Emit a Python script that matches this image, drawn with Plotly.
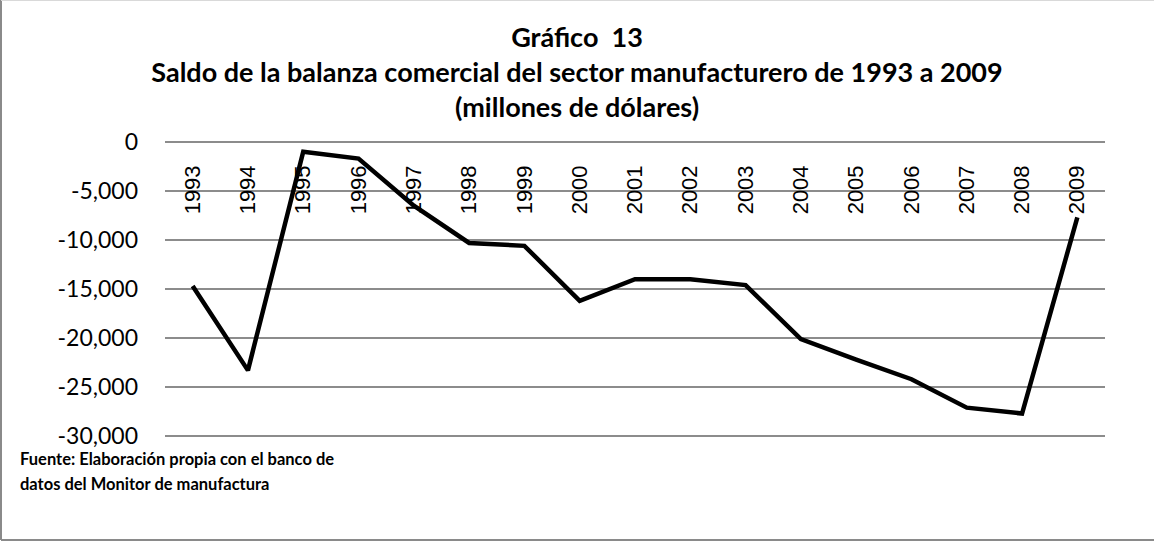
import plotly.graph_objects as go

years = [str(y) for y in range(1993, 2010)]
saldo = [-14700, -23300, -1000, -1700, -6500, -10300, -10600, -16200, -14000,
         -14000, -14600, -20100, -22200, -24200, -27100, -27700, -7700]
y_ticks = [0, -5000, -10000, -15000, -20000, -25000, -30000]
y_labels = ["0", "-5,000", "-10,000", "-15,000", "-20,000", "-25,000", "-30,000"]

title_text = ("<b>Gráfico  13</b><br><b>Saldo de la balanza comercial del sector "
              "manufacturero de 1993 a 2009</b><br><b>(millones de dólares)</b>")
fuente_lines = ["<b>Fuente: Elaboración propia con el banco de</b>",
                "<b>datos del Monitor de manufactura</b>"]

W, H = 1154, 541
L, R, T, B = 165, 49, 139, 102
pw, ph = W - L - R, H - T - B


def px_x(p):
    return (p - L) / pw


def px_y(p):
    return (H - B - p) / ph


fig = go.Figure()
fig.add_trace(go.Scatter(x=years, y=saldo, mode="lines",
                         line=dict(color="black", width=4.5), showlegend=False))

# footnote, one annotation per line to get the wider line spacing
notes = []
for i, txt in enumerate(fuente_lines):
    notes.append(dict(text=txt, xref="paper", yref="paper", x=px_x(18),
                      y=px_y(459 + 25 * i), xanchor="left", yanchor="middle",
                      align="left", showarrow=False,
                      font=dict(family="Lato, sans-serif", size=16.5, color="black")))

fig.update_layout(
    width=W, height=H,
    margin=dict(l=L, r=R, t=T, b=B, autoexpand=False),
    paper_bgcolor="white", plot_bgcolor="white",
    font=dict(family="Lato, sans-serif", color="black"),
    title=dict(text=title_text, x=0.5, xref="container", xanchor="center",
               y=1 - 47 / H, yanchor="top", automargin=False,
               font=dict(family="Lato, sans-serif", size=27, color="black")),
    xaxis=dict(type="category", range=[-0.5, 16.5], showgrid=False, zeroline=False,
               showline=False, ticks="", tickangle=-90, anchor="free",
               position=px_y(160), automargin=False,
               tickfont=dict(family="Liberation Sans, Arial, sans-serif", size=22,
                             color="black")),
    yaxis=dict(range=[-30300, 300], tickvals=y_ticks, ticktext=y_labels,
               showgrid=True, gridcolor="#8c8c8c", gridwidth=2, zeroline=False,
               showline=False, ticks="", ticklabelstandoff=26, automargin=False,
               tickfont=dict(family="Lato, sans-serif", size=23, color="black")),
    annotations=notes,
    shapes=[
        dict(type="line", xref="paper", yref="paper", x0=px_x(1), x1=px_x(1),
             y0=px_y(0), y1=px_y(540), line=dict(color="#8a8a8a", width=2)),
        dict(type="line", xref="paper", yref="paper", x0=px_x(1), x1=px_x(W),
             y0=px_y(540), y1=px_y(540), line=dict(color="#8a8a8a", width=2)),
        dict(type="line", xref="paper", yref="paper", x0=px_x(1), x1=px_x(W),
             y0=px_y(0.5), y1=px_y(0.5), line=dict(color="#d9d9d9", width=1)),
    ],
)

fig.write_html("out.html", config={"displayModeBar": False},
               post_script="document.body.style.margin='0';")
